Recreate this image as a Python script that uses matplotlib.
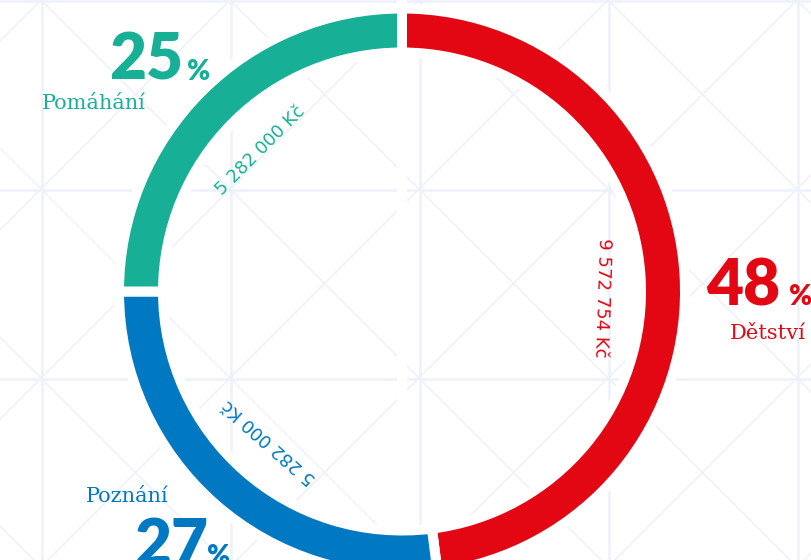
import numpy as np
import matplotlib
matplotlib.use("Agg")
from matplotlib import pyplot as plt

# data
labels = ["Dětství", "Poznání", "Pomáhání"]
percents = [48, 27, 25]
amounts = ["9 572 754 Kč", "5 282 000 Kč", "5 282 000 Kč"]
colors = ["#E30613", "#0079C2", "#17B096"]

W, H = 812, 560
CX, CY = 402, H - 291.5  # centre of ring, y measured upwards
R_OUT, RING = 278, 34
GAP = 10  # px of white between segments
GRID = "#EDF1FB"

fig = plt.figure(figsize=(W / 100, H / 100), dpi=100)
ax = fig.add_axes([0, 0, 1, 1])

# background lattice
step = 189
for x in np.arange(42 - step, W + step, step):
    ax.plot([x, x], [0, H], color=GRID, lw=1.8, zorder=0)
for yp in np.arange(1, H + step, step):
    ax.plot([0, W], [H - yp, H - yp], color=GRID, lw=1.8, zorder=0)
for c in np.arange(41 - 6 * step, W + 6 * step, step):
    # x - yp = c  and  x + yp = c'
    ax.plot([c, c + H], [H, 0], color=GRID, lw=1.1, zorder=0)
    ax.plot([c, c - H], [H, 0], color=GRID, lw=1.1, zorder=0)
ax.plot([CX, CX], [0, H], color="white", lw=GAP * 0.72, zorder=1)

# ring
wedges, _ = ax.pie(
    percents, colors=colors, startangle=90, counterclock=False,
    center=(CX, CY), radius=R_OUT + GAP / 2,
    wedgeprops=dict(width=RING + GAP, edgecolor="white", linewidth=GAP * 0.72),
)
for w in wedges:
    w.set_zorder(2)

# amounts along the ring
r_txt = 200
shift = [-5.5, 0, 0]  # nudge of the label angle, degrees
for w, amt, col, d in zip(wedges, amounts, colors, shift):
    mid = (w.theta1 + w.theta2) / 2
    a = np.deg2rad(mid + d)
    ax.text(CX + r_txt * np.cos(a), CY + r_txt * np.sin(a), amt,
            rotation=mid + d - 90, rotation_mode="anchor", ha="center", va="center",
            color=col, fontsize=13, family="DejaVu Sans", zorder=3)

# percentages and names
num_kw = dict(family="Lato", fontweight="heavy", va="baseline", zorder=3)
name_kw = dict(family="DejaVu Serif", fontsize=15, va="baseline", zorder=3)

ax.text(109, H - 80, f"{percents[2]}", color=colors[2], fontsize=46, **num_kw)
ax.text(187, H - 80, "%", color=colors[2], fontsize=20, **num_kw)
ax.text(42, H - 109, labels[2], color=colors[2], **name_kw)

ax.text(706, H - 305, f"{percents[0]}", color=colors[0], fontsize=46, **num_kw)
ax.text(789, H - 305, "%", color=colors[0], fontsize=20, **num_kw)
ax.text(806, H - 339, labels[0], color=colors[0], ha="right", **name_kw)

ax.text(134, H - 565, f"{percents[1]}", color=colors[1], fontsize=46, **num_kw)
ax.text(207, H - 565, "%", color=colors[1], fontsize=20, **num_kw)
ax.text(86, H - 502, labels[1], color=colors[1], **name_kw)

ax.set_xlim(0, W)
ax.set_ylim(0, H)
ax.set_aspect("equal")
ax.axis("off")

fig.savefig("out.png", dpi=100, facecolor="white")
